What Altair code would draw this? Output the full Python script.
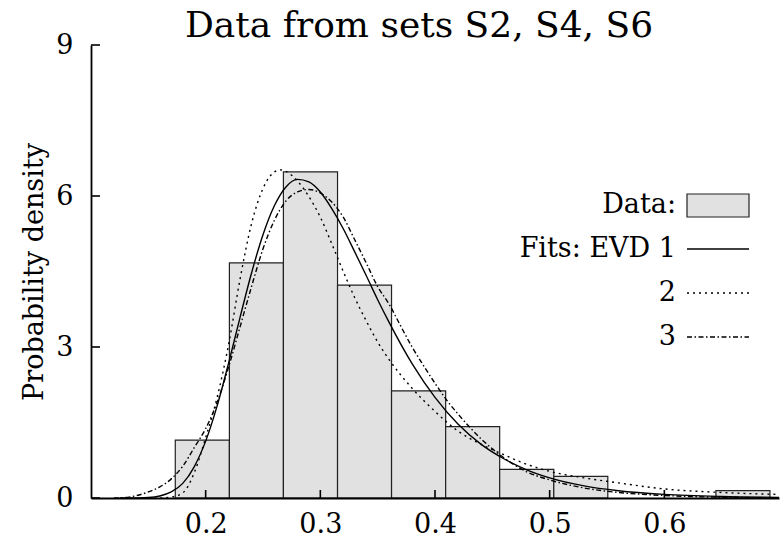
import altair as alt
import pandas as pd

# ---------------- data ----------------
title_text = "Data from sets S2, S4, S6"
y_title = "Probability density"

bin_lo = [0.1735, 0.2207, 0.2678, 0.3150, 0.3621, 0.4093, 0.4564, 0.5036, 0.6450]
bin_hi = [0.2207, 0.2678, 0.3150, 0.3621, 0.4093, 0.4564, 0.5036, 0.5507, 0.6921]
density = [1.15, 4.67, 6.48, 4.23, 2.13, 1.42, 0.57, 0.43, 0.145]

x_ticks = [0.2, 0.3, 0.4, 0.5, 0.6]
y_ticks = [0, 3, 6, 9]

evd1_x = [0.125, 0.14, 0.15, 0.16, 0.17, 0.18, 0.19, 0.20, 0.21, 0.22, 0.23, 0.24,
          0.25, 0.26, 0.27, 0.28, 0.29, 0.30, 0.31, 0.32, 0.33, 0.34, 0.35, 0.36,
          0.38, 0.40, 0.42, 0.44, 0.46, 0.48, 0.50, 0.53, 0.56, 0.60, 0.65, 0.70]
evd1_y = [0.0, 0.003, 0.01, 0.04, 0.12, 0.29, 0.62, 1.13, 1.83, 2.68, 3.59, 4.47,
          5.23, 5.81, 6.18, 6.33, 6.28, 6.08, 5.75, 5.35, 4.89, 4.42, 3.94, 3.49,
          2.67, 2.00, 1.47, 1.07, 0.78, 0.56, 0.40, 0.24, 0.144, 0.073, 0.031, 0.013]

evd2_x = [0.150, 0.160, 0.170, 0.180, 0.190, 0.200, 0.210, 0.220, 0.230, 0.240,
          0.250, 0.260, 0.265, 0.270, 0.280, 0.290, 0.300, 0.310, 0.320, 0.330,
          0.340, 0.350, 0.360, 0.380, 0.400, 0.420, 0.440, 0.460, 0.480, 0.500,
          0.530, 0.560, 0.600, 0.650, 0.700]
evd2_y = [0.0, 0.0, 0.02, 0.10, 0.50, 1.20, 2.00, 3.05, 4.35, 5.45,
          6.15, 6.48, 6.52, 6.49, 6.30, 5.99, 5.58, 5.05, 4.50, 3.98,
          3.52, 3.10, 2.75, 2.18, 1.72, 1.33, 1.07, 0.86, 0.67, 0.53,
          0.40, 0.30, 0.18, 0.11, 0.07]

evd3_x = [0.120, 0.130, 0.140, 0.150, 0.160, 0.170, 0.180, 0.190, 0.200, 0.210,
          0.220, 0.230, 0.240, 0.250, 0.260, 0.270, 0.280, 0.290, 0.300, 0.310,
          0.320, 0.330, 0.340, 0.350, 0.360, 0.370, 0.380, 0.390, 0.400, 0.410,
          0.420, 0.440, 0.460, 0.480, 0.500, 0.530, 0.560, 0.600, 0.650, 0.700]
evd3_y = [0.0, 0.01, 0.05, 0.12, 0.22, 0.38, 0.63, 1.00, 1.38, 1.90,
          2.60, 3.40, 4.20, 4.95, 5.52, 5.90, 6.08, 6.13, 6.06, 5.88,
          5.58, 5.13, 4.67, 4.20, 3.85, 3.42, 3.00, 2.63, 2.28, 1.95,
          1.67, 1.18, 0.80, 0.52, 0.36, 0.20, 0.11, 0.05, 0.015, 0.005]

legend_labels = ["Data:", "Fits: EVD 1", "2", "3"]

# ---------------- chart ----------------
W, H = 688, 453
FONT = "DejaVu Serif"
FS = 27

xs = alt.Scale(domain=[0.1, 0.7], nice=False, zero=False)
ys = alt.Scale(domain=[0, 9], nice=False, zero=True)

bins_df = pd.DataFrame({"lo": bin_lo, "hi": bin_hi, "d": density})

x_axis = alt.Axis(values=x_ticks, format=".1f", tickSize=0, labelPadding=13,
                  labelFont=FONT, labelFontSize=FS, labelColor="black",
                  domainColor="black", domainWidth=1.8, grid=False, title=None,
                  zindex=1, labelFlush=False)
y_axis = alt.Axis(values=y_ticks, format="d", tickSize=0, labelPadding=18,
                  labelFont=FONT, labelFontSize=FS, labelColor="black",
                  domainColor="black", domainWidth=1.8, grid=False,
                  title=y_title, titleFont=FONT, titleFontSize=FS,
                  titleFontWeight="normal", titleColor="black", titlePadding=7,
                  zindex=1, labelFlush=False)

bars = alt.Chart(bins_df).mark_rect(fill="#e1e1e1", stroke="#222222", strokeWidth=1.2).encode(
    x=alt.X("lo:Q", scale=xs, axis=x_axis),
    x2="hi:Q",
    y=alt.Y("d:Q", scale=ys, axis=y_axis),
    y2=alt.datum(0),
)


def curve(xv, yv, dash):
    df = pd.DataFrame({"x": xv, "y": yv})
    kw = dict(color="black", strokeWidth=1.4, interpolate="monotone", clip=True)
    if dash:
        kw["strokeDash"] = dash
    return alt.Chart(df).mark_line(**kw).encode(
        x=alt.X("x:Q", scale=xs, axis=x_axis),
        y=alt.Y("y:Q", scale=ys, axis=y_axis),
    )


DOT = [2, 4]
DASHDOT = [5, 2.5, 1.5, 2.5]

c1 = curve(evd1_x, evd1_y, None)
c2 = curve(evd2_x, evd2_y, DOT)
c3 = curve(evd3_x, evd3_y, DASHDOT)

yt = alt.Chart(pd.DataFrame({"v": y_ticks})).mark_rule(color="black", strokeWidth=1.6).encode(
    y=alt.Y("v:Q", scale=ys, axis=y_axis), x=alt.value(0), x2=alt.value(9))
xt = alt.Chart(pd.DataFrame({"v": x_ticks})).mark_rule(color="black", strokeWidth=1.6).encode(
    x=alt.X("v:Q", scale=xs, axis=x_axis), y=alt.value(H), y2=alt.value(H - 8))

one = pd.DataFrame({"k": [0]})

# title as a text mark placed above the plot area
title_mark = alt.Chart(one).mark_text(text=title_text, align="center", baseline="alphabetic",
                                      font=FONT, fontSize=36, color="black").encode(
    x=alt.value(328), y=alt.value(-8))

LX_TEXT, LX0, LX1 = 585, 596, 658
rows_y = [160, 204, 248, 292]

leg = []
for lab, yy in zip(legend_labels, rows_y):
    leg.append(alt.Chart(one).mark_text(text=lab, align="right", baseline="middle",
                                        font=FONT, fontSize=FS, color="black").encode(
        x=alt.value(LX_TEXT), y=alt.value(yy)))
leg.append(alt.Chart(one).mark_rect(fill="#e1e1e1", stroke="#222222", strokeWidth=1.2).encode(
    x=alt.value(LX0), x2=alt.value(LX1), y=alt.value(rows_y[0] - 11), y2=alt.value(rows_y[0] + 12)))
leg.append(alt.Chart(one).mark_rule(color="black", strokeWidth=1.4).encode(
    x=alt.value(LX0), x2=alt.value(LX1), y=alt.value(rows_y[1])))
leg.append(alt.Chart(one).mark_rule(color="black", strokeWidth=1.4, strokeDash=DOT).encode(
    x=alt.value(LX0), x2=alt.value(LX1), y=alt.value(rows_y[2])))
leg.append(alt.Chart(one).mark_rule(color="black", strokeWidth=1.4, strokeDash=DASHDOT).encode(
    x=alt.value(LX0), x2=alt.value(LX1), y=alt.value(rows_y[3])))

chart = alt.layer(bars, c1, c2, c3, yt, xt, title_mark, *leg).properties(
    width=W, height=H,
    padding={"left": 91, "top": 45, "right": 5, "bottom": 43},
    autosize=alt.AutoSizeParams(type="none"),
    background="white",
).configure_view(stroke=None)

chart.save("out.html", embed_options={"renderer": "svg", "actions": False})
